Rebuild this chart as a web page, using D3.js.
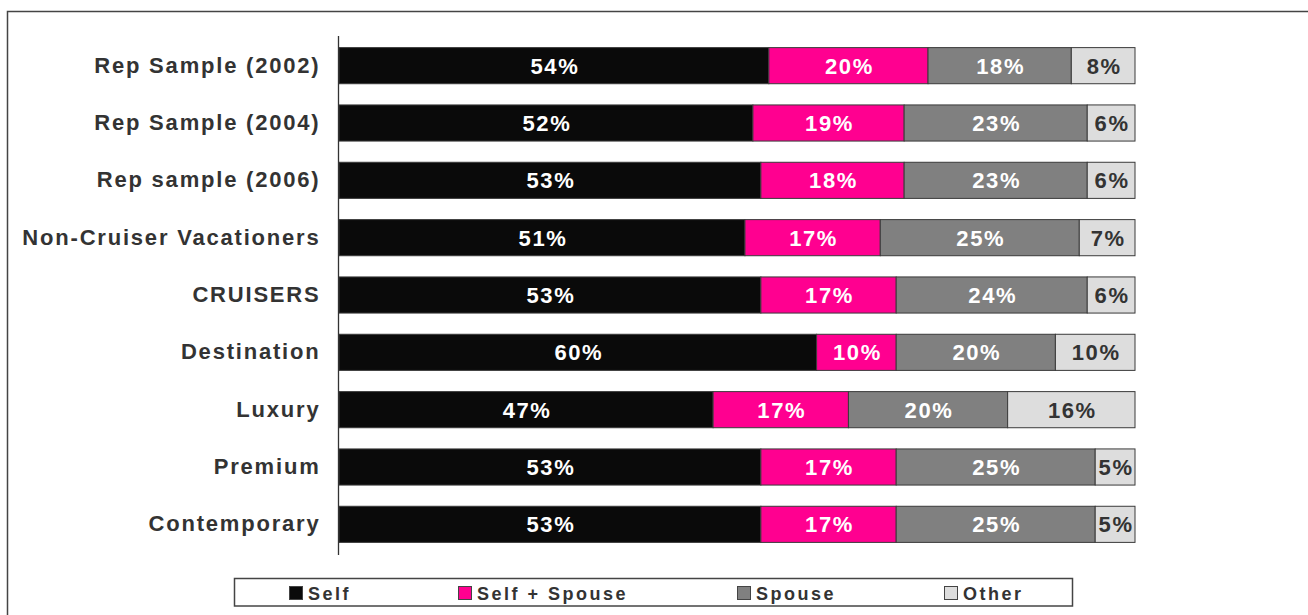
<!DOCTYPE html>
<html>
<head>
<meta charset="utf-8">
<script src="https://cdn.jsdelivr.net/npm/d3@7"></script>
<style>
  html, body { margin: 0; padding: 0; background: #fff; }
  svg { display: block; }
  text { font-family: "Liberation Sans", Arial, sans-serif; font-weight: bold; }
</style>
</head>
<body>
<svg id="chart" width="1308" height="615"></svg>
<script>
const categories = [
  "Rep Sample (2002)",
  "Rep Sample (2004)",
  "Rep sample (2006)",
  "Non-Cruiser Vacationers",
  "CRUISERS",
  "Destination",
  "Luxury",
  "Premium",
  "Contemporary"
];
const seriesNames = ["Self", "Self + Spouse", "Spouse", "Other"];
const selfValues       = [54, 52, 53, 51, 53, 60, 47, 53, 53];
const selfSpouseValues = [20, 19, 18, 17, 17, 10, 17, 17, 17];
const spouseValues     = [18, 23, 23, 25, 24, 20, 20, 25, 25];
const otherValues      = [ 8,  6,  6,  7,  6, 10, 16,  5,  5];
const xTicks = [0, 100];

const colors = ["#0a0a0a", "#ff0090", "#808080", "#dddddd"];
const labelColors = ["#ffffff", "#ffffff", "#ffffff", "#333333"];

const seriesValues = [selfValues, selfSpouseValues, spouseValues, otherValues];
const rows = categories.map((c, i) => {
  const r = { category: c };
  seriesNames.forEach((s, k) => r[s] = seriesValues[k][i]);
  return r;
});
const stacked = d3.stack().keys(seriesNames)(rows);

const svg = d3.select("#chart");

// outer frame
svg.append("rect")
  .attr("x", 7.5).attr("y", 11.5)
  .attr("width", 1400).attr("height", 700)
  .attr("fill", "none").attr("stroke", "#444").attr("stroke-width", 1.5);

const x = d3.scaleLinear().domain(d3.extent(xTicks)).range([339, 1135]);
const y = d3.scaleBand().domain(categories).range([37, 553])
  .paddingInner(0.37).paddingOuter(0.185);

// clip for labels
svg.append("clipPath").attr("id", "plotclip")
  .append("rect").attr("x", x(0)).attr("y", 0)
  .attr("width", x(100) - x(0)).attr("height", 615);

const groups = svg.append("g").selectAll("g.series")
  .data(stacked).join("g").attr("class", "series")
  .attr("fill", (d, i) => colors[i]);

groups.selectAll("rect")
  .data(d => d.map(v => ({ v, key: d.key })))
  .join("rect")
  .attr("x", d => x(d.v[0]))
  .attr("y", d => y(d.v.data.category))
  .attr("width", d => x(d.v[1]) - x(d.v[0]))
  .attr("height", y.bandwidth())
  .attr("stroke", "#3a3a3a")
  .attr("stroke-width", 1);

const labelG = svg.append("g").attr("clip-path", "url(#plotclip)");
stacked.forEach((s, k) => {
  labelG.selectAll(null)
    .data(s)
    .join("text")
    .attr("x", d => (x(d[0]) + x(d[1])) / 2 + 1)
    .attr("y", d => y(d.data.category) + y.bandwidth() / 2)
    .attr("dy", "0.36em")
    .attr("text-anchor", "middle")
    .attr("font-size", "22px")
    .attr("letter-spacing", "1.6px")
    .attr("fill", labelColors[k])
    .text(d => (d[1] - d[0]) + "%");
});

// y axis
const yAxis = d3.axisLeft(y).tickSize(0).tickPadding(0);
const yg = svg.append("g").attr("transform", "translate(338.5,0)").call(yAxis);
yg.select(".domain").attr("stroke", "#333").attr("stroke-width", 1.3)
  .attr("d", "M0,36V555");
yg.selectAll(".tick text")
  .attr("x", -18)
  .attr("font-size", "22px")
  .attr("letter-spacing", "1.8px")
  .attr("fill", "#333")
  .attr("font-family", "'Liberation Sans', Arial, sans-serif")
  .attr("font-weight", "bold");

// legend
const legend = svg.append("g");
legend.append("rect")
  .attr("x", 234.5).attr("y", 578.5)
  .attr("width", 838).attr("height", 27.5)
  .attr("fill", "#fff").attr("stroke", "#444").attr("stroke-width", 1.5);
const legendX = [289, 458, 737, 944];
seriesNames.forEach((s, i) => {
  legend.append("rect")
    .attr("x", legendX[i] + 0.5).attr("y", 586.5)
    .attr("width", 13).attr("height", 13)
    .attr("fill", colors[i]).attr("stroke", "#444").attr("stroke-width", 1);
  legend.append("text")
    .attr("x", legendX[i] + 19).attr("y", 599.5)
    .attr("font-size", "18px")
    .attr("letter-spacing", "2.5px")
    .attr("fill", "#333")
    .text(s);
});
</script>
</body>
</html>
